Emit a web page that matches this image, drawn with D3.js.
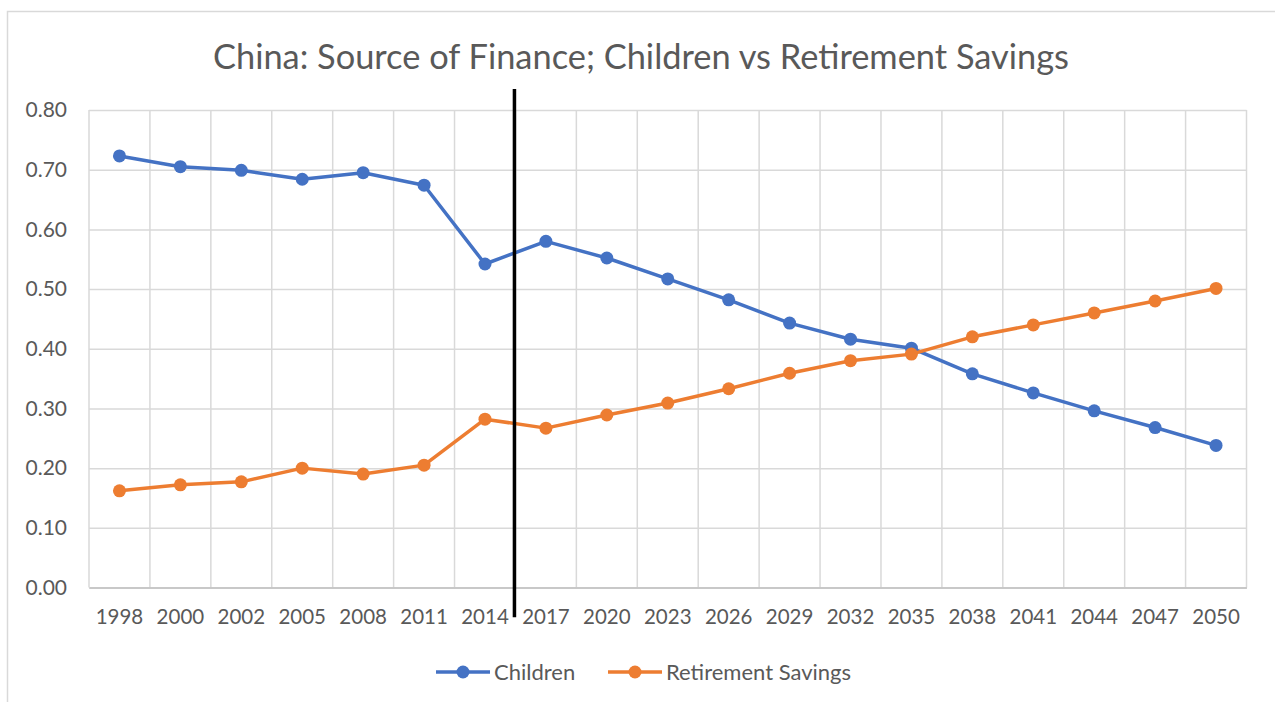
<!DOCTYPE html>
<html>
<head>
<meta charset="utf-8">
<script src="https://cdn.jsdelivr.net/npm/d3@7"></script>
<style>
  body { margin: 0; background: #fff; }
  text { font-family: Lato, "Open Sans", sans-serif; fill: #595959; }
</style>
</head>
<body>
<div id="chart"></div>
<script>
// data
var years = ["1998", "2000", "2002", "2005", "2008", "2011", "2014", "2017", "2020", "2023",
             "2026", "2029", "2032", "2035", "2038", "2041", "2044", "2047", "2050"];
var children = [0.723, 0.705, 0.699, 0.684, 0.695, 0.674, 0.542, 0.580, 0.552, 0.517,
                0.482, 0.443, 0.416, 0.401, 0.358, 0.326, 0.296, 0.268, 0.238];
var retirement = [0.162, 0.172, 0.177, 0.200, 0.190, 0.205, 0.282, 0.267, 0.289, 0.309,
                  0.333, 0.359, 0.380, 0.391, 0.420, 0.440, 0.460, 0.480, 0.501];
var yTicks = [0, 0.1, 0.2, 0.3, 0.4, 0.5, 0.6, 0.7, 0.8];
var seriesNames = ["Children", "Retirement Savings"];
var colors = ["#4472C4", "#ED7D31"];
// vertical divider sits at the start of the 2017 band
var dividerYear = "2017";
var dividerSpan = [0.835, -0.05];

var W = 1275, H = 702;
var margin = {top: 110, right: 28.5, bottom: 114.5, left: 89},
    width = W - margin.left - margin.right,
    height = H - margin.top - margin.bottom;

var svg = d3.select("#chart").append("svg")
    .attr("width", W)
    .attr("height", H);

// chart area border
svg.append("rect")
    .attr("x", 7.5).attr("y", 11.5)
    .attr("width", W).attr("height", H)
    .attr("fill", "none")
    .attr("stroke", "#d9d9d9")
    .attr("stroke-width", 1.5);

var g = svg.append("g")
    .attr("transform", "translate(" + margin.left + "," + margin.top + ")");

var x = d3.scaleBand().domain(years).range([0, width]).padding(0);
var y = d3.scaleLinear().domain([0, 0.8]).range([height, 0]);
var bw = x.bandwidth();

// horizontal gridlines + y labels
var yAxis = g.append("g")
    .call(d3.axisLeft(y).tickValues(yTicks).tickSize(-width).tickPadding(22)
      .tickFormat(d3.format(".2f")));
yAxis.select(".domain").remove();
yAxis.selectAll("line").attr("stroke", "#d9d9d9").attr("stroke-width", 1.5);
yAxis.selectAll("text").style("font-size", "21px").attr("fill", "#595959");

// vertical gridlines at category boundaries
g.append("g").selectAll("line")
    .data(d3.range(years.length + 1))
  .enter().append("line")
    .attr("x1", function(i) { return i * bw; })
    .attr("x2", function(i) { return i * bw; })
    .attr("y1", 0).attr("y2", height)
    .attr("stroke", "#d9d9d9").attr("stroke-width", 1.5);

// x axis
var xAxis = g.append("g")
    .attr("transform", "translate(0," + height + ")")
    .call(d3.axisBottom(x).tickSize(0).tickPadding(22));
xAxis.select(".domain").attr("stroke", "#bfbfbf").attr("stroke-width", 1.5);
xAxis.selectAll("text").style("font-size", "20.5px").attr("fill", "#595959");

// series
var allSeries = [children, retirement];
var line = d3.line()
    .x(function(d, i) { return x(years[i]) + bw / 2; })
    .y(function(d) { return y(d); });

allSeries.forEach(function(vals, s) {
  g.append("path")
      .datum(vals)
      .attr("fill", "none")
      .attr("stroke", colors[s])
      .attr("stroke-width", 3.5)
      .attr("stroke-linejoin", "round")
      .attr("d", line);
  g.append("g").selectAll("circle")
      .data(vals)
    .enter().append("circle")
      .attr("cx", function(d, i) { return x(years[i]) + bw / 2; })
      .attr("cy", function(d) { return y(d); })
      .attr("r", 6.5)
      .attr("fill", colors[s]);
});

// divider line
g.append("line")
    .attr("x1", x(dividerYear) - 1).attr("x2", x(dividerYear) - 1)
    .attr("y1", y(dividerSpan[0])).attr("y2", y(dividerSpan[1]))
    .attr("stroke", "#000").attr("stroke-width", 3.5);

// title
svg.append("text")
    .attr("x", 641).attr("y", 69)
    .attr("text-anchor", "middle")
    .style("font-size", "34.4px")
    .text("China: Source of Finance; Children vs Retirement Savings");

// legend
var legendX = [436, 608];
var legend = svg.append("g").attr("transform", "translate(0,672)");
seriesNames.forEach(function(name, s) {
  var lg = legend.append("g").attr("transform", "translate(" + legendX[s] + ",0)");
  lg.append("line").attr("x1", 0).attr("x2", 54)
      .attr("stroke", colors[s]).attr("stroke-width", 3.5);
  lg.append("circle").attr("cx", 27).attr("r", 6.5).attr("fill", colors[s]);
  lg.append("text").attr("x", 58).attr("y", 7.5)
      .style("font-size", "22px")
      .text(name);
});
</script>
</body>
</html>
